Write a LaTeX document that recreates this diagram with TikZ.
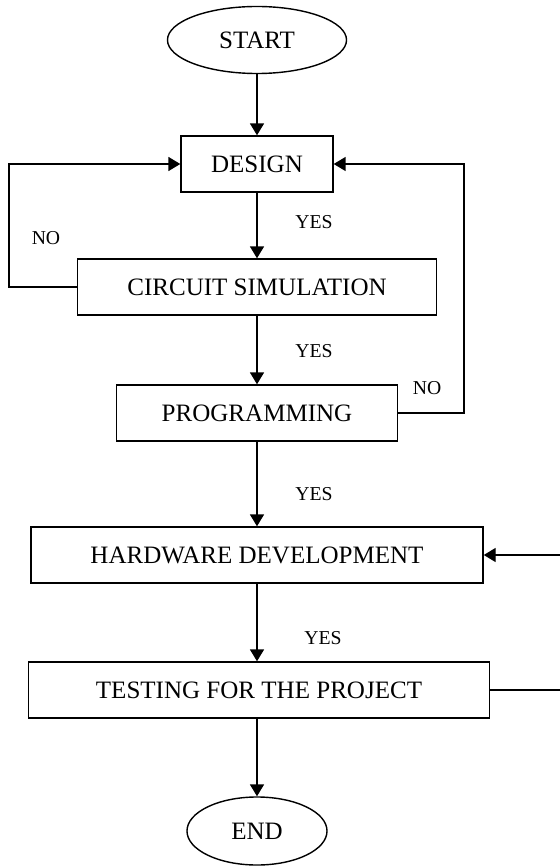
\documentclass[tikz,border=0pt]{standalone}
\usepackage{fontspec}
\setmainfont{Liberation Serif}
\usepackage{tikz}
\usetikzlibrary{arrows.meta,positioning,calc,shapes.geometric}

\begin{document}
\begin{tikzpicture}[x=0.025cm,y=-0.025cm,
  process/.style={draw,line width=1pt,minimum height=1.4cm,inner sep=0pt,font=\fontsize{17.8}{21}\selectfont},
  terminal/.style={draw,ellipse,line width=1pt,inner sep=0pt,font=\fontsize{17.8}{21}\selectfont},
  tag/.style={font=\fontsize{14}{16}\selectfont,inner sep=0pt},
  arrow/.style={-{Triangle[length=8.5pt,width=10pt]},line width=1pt}
]
\useasboundingbox (0,0) rectangle (559,866);

\node[terminal,minimum width=4.475cm,minimum height=1.675cm] (start) at (257,40) {START};
\node[process,minimum width=3.8cm] (design) at (257,164) {DESIGN};
\node[process,minimum width=8.975cm] (circuit) at (257,287) {CIRCUIT SIMULATION};
\node[process,minimum width=7.025cm] (programming) at (257,413) {PROGRAMMING};
\node[process,minimum width=11.3cm] (hardware) at (257,555) {HARDWARE DEVELOPMENT};
\node[process,minimum width=11.525cm] (testing) at (259,690) {TESTING FOR THE PROJECT};
\node[terminal,minimum width=3.5cm,minimum height=1.7cm] (stop) at (257,831) {END};

\node[tag] (yes1) at (314,222) {YES};
\node[tag] (yes2) at (314,351) {YES};
\node[tag] (yes3) at (314,494) {YES};
\node[tag] (yes4) at (323,638) {YES};
\node[tag] (noleft) at (46,238) {NO};
\node[tag] (noright) at (427,388) {NO};

\coordinate (leftrail) at (9,0);
\coordinate (rightrail) at (464,0);
\coordinate (backrail) at (580,0);

\draw[arrow] (start) -- (design);
\draw[arrow] (design) -- (circuit);
\draw[arrow] (circuit) -- (programming);
\draw[arrow] (programming) -- (hardware);
\draw[arrow] (hardware.south) -- (hardware.south |- testing.north);
\draw[arrow] (testing.south -| stop.north) -- (stop);

\draw[arrow] (circuit.west) -- (circuit.west -| leftrail) |- (design.west);
\draw[arrow] (programming.east) -- (programming.east -| rightrail) |- (design.east);
\draw[arrow] (testing.east) -- (testing.east -| backrail) |- (hardware.east);
\end{tikzpicture}
\end{document}
